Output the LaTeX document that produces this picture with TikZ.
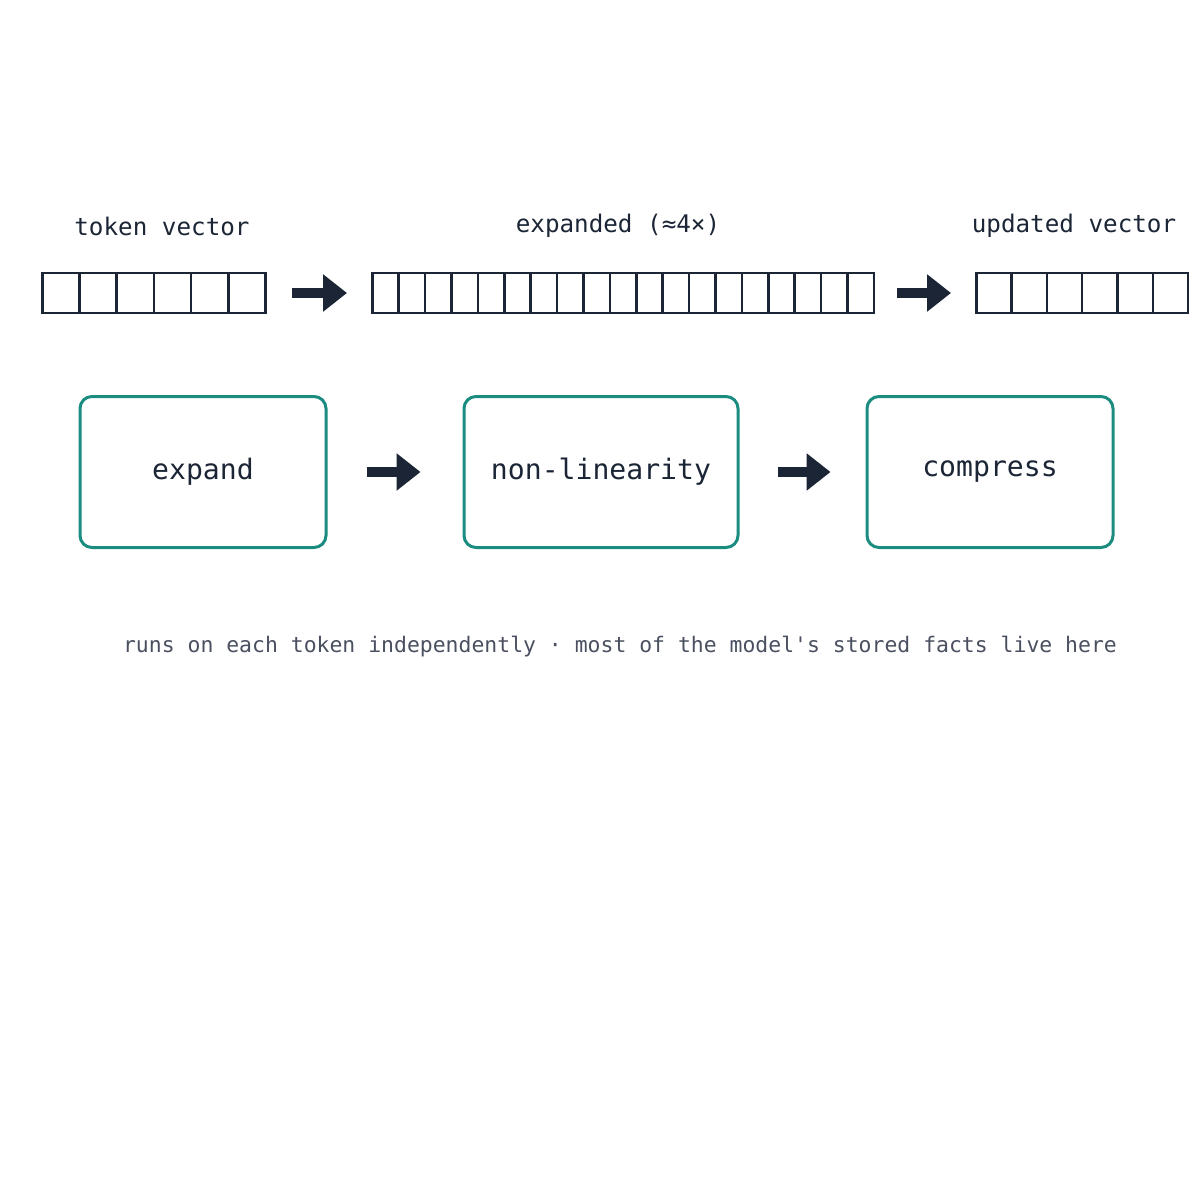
\documentclass[tikz,border=0pt]{standalone}
\usepackage{fontspec}
\setmonofont{DejaVu Sans Mono}
\usetikzlibrary{positioning,arrows.meta}
\definecolor{ink}{HTML}{1B2535}
\definecolor{teal}{HTML}{1A8C80}
\definecolor{note}{HTML}{4A5060}
\tikzset{cell/.style={draw=ink,line width=0.25mm,minimum height=4mm,inner sep=0pt}}
\tikzset{stage/.style={draw=teal,line width=0.3mm,rounded corners=1.2mm,minimum width=24.6mm,minimum height=15.1mm,font=\ttfamily\fontsize{8}{10}\selectfont,text=ink}}
\tikzset{caption/.style={font=\ttfamily\fontsize{6.9}{8}\selectfont,text=ink}}
\tikzset{flow/.style={-{Triangle[length=2.4mm,width=3.6mm]},line width=1mm,draw=ink}}
\begin{document}
\begin{tikzpicture}[x=0.1mm,y=-0.1mm]
  \useasboundingbox (0,0) rectangle (1200,1200);
  % vectors
  \foreach \i in {0,...,5}
    \node[cell,minimum width=3.72mm,anchor=west] (in\i) at (41+37.2*\i,293) {};
  \foreach \i in {0,...,18}
    \node[cell,minimum width=2.64mm,anchor=west] (mid\i) at (371+26.4*\i,293) {};
  \foreach \i in {0,...,5}
    \node[cell,minimum width=3.53mm,anchor=west] (out\i) at (975+35.3*\i,293) {};
  \node[caption] (lin) at (162,226) {token vector};
  \node[caption] (lmid) at (618,226) {expanded (≈4×)};
  \node[caption] (lout) at (1074,226) {updated vector};
  \coordinate (a1) at (292,293); \coordinate (b1) at (347,293);
  \coordinate (a2) at (897,293); \coordinate (b2) at (951,293);
  \draw[flow] (a1) -- (b1);
  \draw[flow] (a2) -- (b2);
  % stages
  \node[stage] (expand) at (203,472) {expand};
  \node[stage,minimum width=27.4mm] (nonlin) at (601,472) {non-linearity};
  \node[stage] (compress) at (990,472) {compress};
  \draw[flow,shorten <=3.9mm,shorten >=4.2mm] (expand) -- (nonlin);
  \draw[flow,shorten <=3.8mm,shorten >=3.5mm] (nonlin) -- (compress);
  \node[font=\ttfamily\fontsize{6.1}{8}\selectfont,text=note] (foot) at (620,647)
    {runs on each token independently · most of the model's stored facts live here};
\end{tikzpicture}
\end{document}
